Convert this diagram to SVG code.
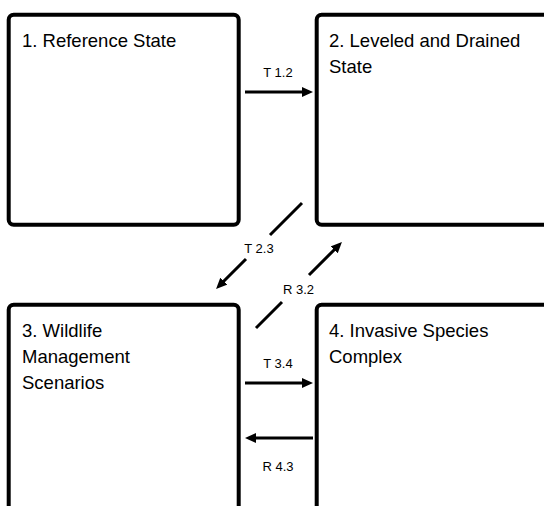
<svg xmlns="http://www.w3.org/2000/svg" width="544" height="506" viewBox="0 0 544 506">
<style>
.box{fill:#fff;stroke:#000;stroke-width:4}
.t{font-family:"Liberation Sans",Arial,sans-serif;font-size:18.5px;fill:#000}
.lbl{font-family:"Liberation Sans",Arial,sans-serif;font-size:13px;fill:#000;text-anchor:middle}
.c{fill:none;stroke:#000;stroke-width:3;marker-end:url(#ah)}
</style>
<defs>
<marker id="ah" markerUnits="userSpaceOnUse" markerWidth="12" markerHeight="11" refX="3" refY="5" orient="auto">
<path d="M0,0 L11,5 L0,10 z" fill="#000"/>
</marker>
</defs>
<rect width="544" height="506" fill="#fff"/>
<g id="node1"><rect class="box" x="8.7" y="14.7" width="230" height="210" rx="5"/><text class="t" x="22" y="47">1. Reference State</text></g>
<g id="node2"><rect class="box" x="316.7" y="14.7" width="240" height="210" rx="5"/><text class="t" x="329" y="47">2. Leveled and Drained</text><text class="t" x="329" y="72.5">State</text></g>
<g id="node3"><rect class="box" x="8.7" y="304.7" width="230" height="240" rx="5"/><text class="t" x="22" y="337">3. Wildlife</text><text class="t" x="22" y="363">Management</text><text class="t" x="22" y="389">Scenarios</text></g>
<g id="node4"><rect class="box" x="316.7" y="304.7" width="240" height="240" rx="5"/><text class="t" x="329" y="337">4. Invasive Species</text><text class="t" x="329" y="363">Complex</text></g>
<g id="connectors">
<path class="c" d="M245,92 L305,92"/>
<text class="lbl" x="278" y="77">T 1.2</text>
<path class="c" d="M302,203 L270,235 M246,259 L221.7,283.3"/>
<text class="lbl" x="259" y="253">T 2.3</text>
<path class="c" d="M256,328 L282,302 M309,275 L336.3,247.7"/>
<text class="lbl" x="298.5" y="294">R 3.2</text>
<path class="c" d="M245,383 L305,383"/>
<text class="lbl" x="278" y="368">T 3.4</text>
<path class="c" d="M313,438 L253,438"/>
<text class="lbl" x="278" y="471">R 4.3</text>
</g>
</svg>
